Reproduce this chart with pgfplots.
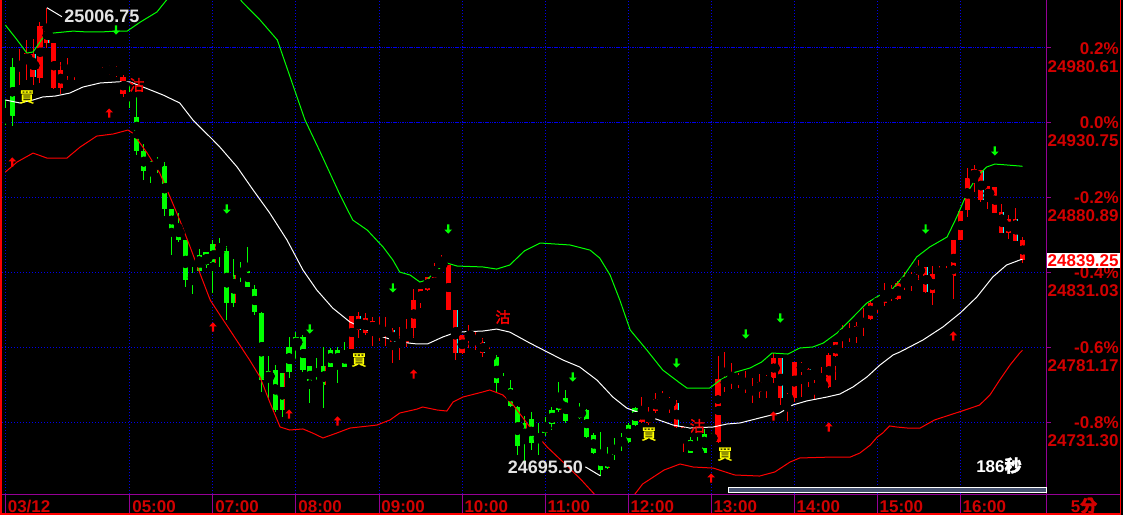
\documentclass[border=0pt]{standalone}
\usepackage{fontspec}
\setmainfont{Liberation Sans}
\newfontfamily\cjk[FakeBold=1.6]{Noto Sans CJK TC}
\usepackage{pgfplots}
\usepackage{pgfplotstable}
\pgfplotsset{compat=1.18}

\definecolor{upred}{RGB}{255,0,0}
\definecolor{dngreen}{RGB}{0,255,0}
\definecolor{edgecyan}{RGB}{0,255,255}
\definecolor{axpurple}{RGB}{150,0,150}
\definecolor{lblred}{RGB}{210,0,0}
\definecolor{gridblue}{RGB}{0,0,235}
\definecolor{sigyellow}{RGB}{255,255,0}
\definecolor{valgray}{RGB}{228,228,228}
\definecolor{barfill}{RGB}{70,82,112}

\newcommand\lab{\fontsize{8.5}{9}\selectfont\bfseries}
\newcommand\valfont{\fontsize{9}{10}\selectfont\bfseries}
\newcommand\sigfont{\cjk\fontsize{7.5}{7.5}\selectfont}

% signal arrows
\pgfdeclareplotmark{sigup}{%
  \pgfpathmoveto{\pgfqpoint{0pt}{2.3pt}}%
  \pgfpathlineto{\pgfqpoint{1.9pt}{0.3pt}}%
  \pgfpathlineto{\pgfqpoint{0.55pt}{0.3pt}}%
  \pgfpathlineto{\pgfqpoint{0.55pt}{-2.3pt}}%
  \pgfpathlineto{\pgfqpoint{-0.55pt}{-2.3pt}}%
  \pgfpathlineto{\pgfqpoint{-0.55pt}{0.3pt}}%
  \pgfpathlineto{\pgfqpoint{-1.9pt}{0.3pt}}%
  \pgfpathclose\pgfusepathqfill}
\pgfdeclareplotmark{sigdown}{%
  \pgfpathmoveto{\pgfqpoint{0pt}{-2.3pt}}%
  \pgfpathlineto{\pgfqpoint{1.9pt}{-0.3pt}}%
  \pgfpathlineto{\pgfqpoint{0.55pt}{-0.3pt}}%
  \pgfpathlineto{\pgfqpoint{0.55pt}{2.3pt}}%
  \pgfpathlineto{\pgfqpoint{-0.55pt}{2.3pt}}%
  \pgfpathlineto{\pgfqpoint{-0.55pt}{-0.3pt}}%
  \pgfpathlineto{\pgfqpoint{-1.9pt}{-0.3pt}}%
  \pgfpathclose\pgfusepathqfill}

% 5-minute bars: index, open, high, low, close,
% signal state (1 = long, 0 = short), e = body drawn with a contrasting edge
\pgfplotstableread{
i o h l c s e
0 24934.74 24945.38 24928.76 24930.75 0 0
1 24967.32 24973.30 24928.10 24934.74 0 0
2 24967.32 24979.28 24955.35 24969.98 1 0
3 24969.98 24985.27 24958.68 24976.63 1 0
4 24960.67 24985.93 24955.35 24975.96 1 1
5 24960.01 24997.23 24956.68 24994.58 1 0
6 24983.27 25006.75 24979.95 24993.25 1 1
7 24953.36 24983.27 24952.69 24983.27 1 0
8 24953.36 24970.64 24949.37 24965.32 1 0
9 24963.33 24973.30 24958.68 24965.32 1 0
10 24964.66 24968.65 24958.68 24967.98 1 0
11 24964.66 24967.98 24962.00 24967.98 1 0
12 24963.99 24966.65 24962.00 24965.99 1 0
13 24963.99 24965.99 24962.00 24965.32 1 0
14 24963.33 24967.32 24960.67 24963.99 1 1
15 24963.33 24968.65 24962.00 24967.98 1 0
16 24962.00 24967.98 24960.67 24967.32 1 1
17 24960.67 24962.00 24947.37 24949.37 1 0
18 24948.70 24955.35 24940.06 24946.04 0 0
19 24934.08 24947.37 24908.82 24911.48 0 0
20 24911.48 24916.13 24892.20 24898.18 0 0
21 24904.83 24904.83 24890.20 24898.18 0 1
22 24904.83 24907.49 24896.85 24902.17 0 0
23 24901.50 24904.16 24868.26 24872.92 0 0
24 24872.92 24872.92 24842.34 24858.29 0 0
25 24862.28 24870.26 24850.98 24852.31 0 0
26 24852.31 24852.31 24821.06 24825.72 0 0
27 24829.70 24834.36 24816.41 24825.05 0 0
28 24842.34 24846.32 24831.03 24831.70 0 0
29 24844.33 24844.33 24833.69 24835.69 0 0
30 24849.65 24852.31 24817.07 24835.69 0 1
31 24848.32 24853.64 24834.36 24846.32 0 0
32 24845.00 24848.32 24799.12 24810.43 0 0
33 24829.04 24839.68 24807.77 24810.43 0 1
34 24833.03 24837.68 24824.39 24827.71 0 1
35 24833.69 24847.65 24821.06 24821.06 0 0
36 24819.73 24822.39 24802.45 24804.44 0 0
37 24803.78 24804.44 24751.26 24759.24 0 0
38 24765.22 24775.19 24745.94 24758.57 0 1
39 24765.88 24769.21 24737.96 24739.29 0 0
40 24763.89 24763.89 24734.64 24739.29 0 1
41 24781.17 24787.82 24760.57 24764.55 0 0
42 24787.82 24791.15 24772.53 24781.17 0 0
43 24787.82 24789.15 24764.55 24765.88 0 0
44 24768.54 24768.54 24743.95 24756.58 0 0
45 24757.91 24773.86 24754.58 24755.25 0 0
46 24768.54 24781.17 24740.62 24755.91 0 1
47 24779.18 24780.51 24767.88 24767.88 0 0
48 24779.18 24781.17 24757.24 24769.21 0 0
49 24778.52 24784.50 24767.88 24767.88 0 0
50 24779.84 24801.78 24779.84 24801.78 1 0
51 24792.48 24804.44 24787.16 24801.78 1 1
52 24790.48 24803.78 24789.15 24800.45 1 0
53 24791.15 24801.12 24781.84 24798.46 1 0
54 24789.82 24801.12 24785.16 24791.15 1 0
55 24790.48 24801.12 24781.84 24793.14 1 0
56 24783.83 24793.81 24770.54 24792.48 1 1
57 24782.50 24794.47 24772.53 24785.16 1 0
58 24783.83 24799.79 24781.17 24792.48 1 0
59 24793.81 24819.73 24787.16 24812.42 1 0
60 24811.09 24819.73 24807.10 24819.73 1 0
61 24819.07 24827.71 24818.40 24827.71 1 0
62 24827.05 24837.02 24827.05 24833.69 1 0
63 24835.02 24842.34 24834.36 24837.68 1 0
64 24835.69 24835.69 24805.77 24805.77 1 0
65 24805.77 24805.77 24772.53 24777.19 1 1
66 24777.19 24789.15 24776.52 24789.15 1 0
67 24787.82 24795.80 24780.51 24790.48 1 0
68 24787.82 24791.15 24779.18 24784.50 1 0
69 24784.50 24787.16 24774.53 24777.19 1 1
70 24775.86 24781.17 24772.53 24774.53 1 0
71 24774.53 24775.86 24750.59 24757.24 0 0
72 24757.24 24763.89 24753.92 24754.58 0 0
73 24753.92 24759.24 24741.29 24741.95 0 0
74 24741.29 24741.95 24709.38 24715.36 0 0
75 24730.65 24735.30 24704.06 24717.35 0 1
76 24733.31 24737.96 24712.70 24717.35 0 0
77 24722.01 24730.65 24709.38 24720.01 0 0
78 24730.65 24734.64 24722.01 24724.00 0 1
79 24739.29 24741.29 24726.00 24729.98 0 0
80 24747.27 24757.91 24737.96 24739.29 0 1
81 24747.27 24752.59 24730.65 24731.98 0 0
82 24733.31 24735.97 24729.98 24731.98 0 0
83 24740.62 24743.95 24733.31 24733.97 0 0
84 24739.29 24739.96 24720.68 24721.34 0 0
85 24722.67 24724.00 24710.04 24710.71 0 0
86 24710.71 24724.67 24695.50 24699.40 0 0
87 24708.71 24714.69 24700.07 24700.73 0 1
88 24715.36 24720.68 24706.05 24709.38 0 0
89 24720.01 24724.00 24712.04 24716.69 0 0
90 24729.32 24730.65 24717.35 24718.02 0 0
91 24740.62 24741.29 24728.66 24729.32 0 0
92 24731.31 24747.93 24730.65 24740.62 1 0
93 24730.65 24741.29 24729.32 24737.30 1 0
94 24738.63 24750.59 24737.30 24746.60 1 0
95 24743.95 24751.92 24743.28 24748.60 1 0
96 24743.28 24747.93 24737.30 24745.28 1 0
97 24743.95 24745.94 24727.33 24727.99 1 1
98 24727.99 24728.66 24711.37 24721.34 1 0
99 24719.35 24721.34 24710.71 24710.71 0 0
100 24712.04 24721.34 24710.71 24710.71 0 0
101 24723.34 24726.66 24710.71 24710.71 0 0
102 24723.34 24724.00 24717.35 24718.02 0 0
103 24718.02 24775.19 24717.35 24759.90 1 0
104 24755.25 24777.85 24751.26 24759.90 1 1
105 24758.57 24770.54 24753.25 24761.23 1 0
106 24757.91 24763.89 24753.92 24761.23 1 1
107 24754.58 24765.22 24750.59 24757.24 1 1
108 24750.59 24760.57 24743.95 24753.25 1 0
109 24751.26 24763.22 24747.27 24757.91 1 0
110 24756.58 24762.56 24747.27 24761.23 1 0
111 24760.57 24777.19 24757.24 24773.86 1 0
112 24773.86 24773.86 24742.62 24747.27 1 1
113 24745.28 24750.59 24731.98 24748.60 1 0
114 24747.27 24771.20 24744.61 24771.20 1 0
115 24765.22 24771.20 24747.93 24769.87 1 1
116 24759.90 24767.21 24754.58 24766.55 1 1
117 24751.92 24759.24 24745.94 24756.58 1 1
118 24754.58 24767.88 24753.92 24757.24 1 0
119 24754.58 24777.19 24753.92 24775.86 1 0
120 24775.19 24784.50 24759.24 24784.50 1 0
121 24787.82 24795.80 24780.51 24792.48 1 0
122 24787.82 24797.13 24784.50 24792.48 1 0
123 24789.15 24797.79 24783.83 24795.14 1 0
124 24795.80 24807.10 24788.49 24798.46 1 0
125 24799.79 24812.42 24799.12 24810.43 1 0
126 24810.43 24814.41 24803.78 24811.76 1 1
127 24810.43 24823.72 24808.43 24818.40 1 0
128 24813.75 24822.39 24811.76 24818.40 1 1
129 24813.08 24825.05 24812.42 24823.72 1 0
130 24823.06 24831.03 24819.07 24824.39 1 0
131 24825.05 24831.03 24818.40 24828.38 1 0
132 24829.04 24839.01 24825.72 24835.02 1 0
133 24817.74 24834.36 24817.07 24834.36 1 1
134 24817.07 24835.02 24809.10 24829.70 1 0
135 24827.71 24835.02 24827.05 24829.04 1 0
136 24827.71 24835.02 24826.38 24829.04 1 0
137 24828.38 24852.31 24813.08 24852.31 1 0
138 24852.31 24871.59 24852.31 24871.59 1 0
139 24872.25 24900.17 24867.60 24893.53 1 0
140 24892.86 24902.17 24884.22 24899.51 1 0
141 24898.84 24898.84 24877.57 24878.90 1 1
142 24888.21 24888.21 24872.92 24878.90 1 0
143 24887.54 24887.54 24870.26 24870.26 1 0
144 24870.92 24876.24 24856.96 24856.96 1 1
145 24866.27 24868.93 24852.97 24856.96 1 0
146 24866.27 24873.58 24851.64 24851.64 1 1
147 24852.31 24854.30 24837.02 24839.25 1 0
}\candles

% candle parts drawn as thick error bars; the green pass only covers short-signal bars
\pgfplotsset{
  candlepart/.style n args={2}{only marks, mark=none, forget plot,
    error bars/.cd, y dir=both, y explicit, error mark=none,
    error bar style={draw=#1, line width=#2, solid, line cap=butt}},
}

\begin{document}
\begin{tikzpicture}
\begin{scope}[x=0.5pt,y=-0.5pt]
  \fill[black] (0,0) rectangle (1123,515);
\end{scope}

\begin{axis}[
  at={(1pt,-247pt)}, anchor=south west,
  scale only axis, width=522pt, height=247pt,
  xmin=-0.49, xmax=150.4, ymin=24683.45, ymax=25011.86,
  scaled x ticks=false, scaled y ticks=false,
  axis line style={draw=none},
  xtick={0,18,30,42,54,66,78,90,102,114,126,138},
  ytick={24731.30,24781.17,24831.03,24880.89},
  extra y ticks={24930.75,24980.61},
  extra y tick style={major grid style={draw=gridblue, line width=0.5pt, dash pattern=on 0.75pt off 0.4pt}},
  xticklabel=\empty, yticklabel=\empty, extra y tick labels={},
  xtick pos=bottom, ytick pos=right,
  tick align=outside, major tick length=9.5pt,
  xtick style={draw=axpurple, line width=0.5pt},
  ytick style={draw=none},
  grid=major,
  major grid style={draw=gridblue, line width=0.5pt, dash pattern=on 0.5pt off 1pt},
]

% red pass: every bar
\addplot[candlepart={upred}{0.5pt}]
  table[x=i, y expr={(\thisrow{h}+\thisrow{l})/2},
        y error expr={(\thisrow{h}-\thisrow{l})/2}] {\candles};
\addplot[candlepart={upred}{2.6pt}]
  table[x=i, y expr={(\thisrow{o}+\thisrow{c})/2},
        y error expr={max(abs(\thisrow{o}-\thisrow{c})/2,0.5)}] {\candles};
% green pass: bars with a short signal
\addplot[candlepart={dngreen}{0.5pt}]
  table[x=i, y expr={(\thisrow{h}+\thisrow{l})/2},
        y error expr={(1-\thisrow{s})*(\thisrow{h}-\thisrow{l})/2}] {\candles};
\addplot[candlepart={dngreen}{2.6pt}]
  table[x=i, y expr={(\thisrow{o}+\thisrow{c})/2},
        y error expr={(1-\thisrow{s})*max(abs(\thisrow{o}-\thisrow{c})/2,0.5)}] {\candles};
% body edges
\addplot[candlepart={edgecyan}{0.5pt}]
  table[x expr={\thisrow{i}+0.30}, y expr={(\thisrow{o}+\thisrow{c})/2},
        y error expr={\thisrow{s}*\thisrow{e}*max(abs(\thisrow{o}-\thisrow{c})/2,0.5)}] {\candles};
\addplot[candlepart={upred}{0.5pt}]
  table[x expr={\thisrow{i}+0.30}, y expr={(\thisrow{o}+\thisrow{c})/2},
        y error expr={(1-\thisrow{s})*\thisrow{e}*max(abs(\thisrow{o}-\thisrow{c})/2,0.5)}] {\candles};

% Bollinger bands
\addplot[draw=white, line width=0.5pt, mark=none] coordinates {
(0,24945.4) (2.1,24943.4) (4,24945.4) (5.4,24947.4) (7.2,24948.0) (9.3,24950.0) (11.2,24954.0) (13.7,24956.7) (16.1,24957.4) (18,24957.4) (19.9,24954.0) (22.8,24948.7) (25.2,24943.4) (27.1,24932.1) (30,24918.8) (31,24914.1) (33.5,24900.8) (35.8,24885.6) (38.2,24870.3) (40.7,24852.3) (43,24832.4) (45,24819.1) (47.3,24807.1) (49.8,24797.8) (52.3,24792.5) (54.6,24787.8) (57,24784.5) (59.5,24783.2) (61,24783.2) (63.2,24787.8) (65.2,24791.1) (69,24791.8) (71,24793.1) (72.9,24791.1) (75.8,24783.8) (78.3,24777.9) (80.6,24772.5) (83,24767.9) (85.5,24759.2) (87.8,24747.9) (89.8,24740.6) (91.7,24737.3) (93.6,24734.0) (96.5,24729.3) (98.9,24727.3) (102.3,24728.0) (104.3,24730.0) (106.2,24730.7) (109,24734.0) (111.9,24737.3) (113.8,24742.6) (115.8,24745.3) (118.7,24747.9) (120.6,24749.9) (122.5,24754.6) (124.5,24761.2) (126.4,24769.2) (128.3,24775.9) (129.3,24777.9) (132.6,24785.8) (135.5,24794.5) (138,24803.8) (140.4,24814.4) (142.7,24827.7) (144.7,24835.7) (146.6,24839.0) (147,24839.5)};
\addplot[draw=dngreen, line width=0.5pt, mark=none] coordinates {
(0,24995.2) (1.7,24985.3) (3.1,24976.6) (4,24977.3) (5.4,24986.6) (6.9,24989.9) (9.8,24991.2) (11.8,24990.6) (13.7,24990.6) (16.1,24991.2) (17.6,24991.2) (19.5,24997.2) (21.9,25003.9) (23.3,25011.9) (26,25025.0) (29,25032.0) (32,25025.0) (34.2,25010.7) (36.8,24998.6) (39.3,24985.3) (42.6,24941.4) (43.3,24932.1) (45.5,24910.8) (48.3,24882.9) (50.2,24865.6) (52.3,24858.9) (54.6,24847.6) (56,24839.0) (57,24831.0) (58.5,24829.0) (59.9,24824.4) (60.9,24825.7) (62.4,24832.4) (63.8,24837.0) (65.3,24835.0) (69,24834.4) (71,24833.0) (72.9,24835.7) (75,24845.0) (77.3,24850.3) (81.6,24849.0) (84.5,24845.6) (85.9,24840.3) (87.4,24829.0) (88.8,24812.4) (90.3,24792.5) (92.7,24779.2) (95,24765.9) (97.5,24757.2) (98.5,24753.9) (101.8,24753.9) (103.3,24759.2) (105.1,24763.9) (107.6,24767.2) (109.3,24771.2) (110.8,24777.2) (113.1,24776.5) (114.8,24780.5) (116.7,24781.2) (118.2,24783.8) (120.2,24790.5) (121.8,24797.8) (124.5,24810.4) (126.4,24815.7) (127.8,24817.7) (129.7,24827.7) (131.7,24841.0) (133.6,24847.7) (136.1,24854.3) (137.5,24867.6) (139,24883.6) (140.4,24894.2) (141.8,24900.8) (143,24902.8) (144.7,24902.2) (146.6,24901.5) (147,24901.3)};
\addplot[draw=upred, line width=0.5pt, mark=none] coordinates {
(0,24897.5) (1.7,24904.2) (4,24910.1) (6,24906.8) (8.9,24906.8) (10.8,24914.1) (13.2,24921.4) (15.6,24922.8) (17.7,24925.4) (18.4,24923.4) (20.5,24910.1) (22.3,24896.9) (23.8,24880.9) (25.2,24865.6) (26.7,24847.7) (28.1,24830.4) (29.6,24812.4) (31,24802.5) (33.2,24787.2) (35.3,24772.5) (36.8,24761.2) (38.2,24744.6) (39.7,24728.0) (41.1,24726.0) (43,24726.7) (44.4,24724.0) (45.9,24720.7) (47.9,24724.0) (49.8,24727.3) (53.7,24729.3) (55.6,24732.7) (57,24737.3) (59.5,24739.9) (60.3,24741.3) (62.4,24739.3) (63.8,24738.6) (64.7,24744.6) (66.1,24747.9) (69,24751.3) (70,24752.6) (71.9,24749.3) (73.4,24742.6) (75.8,24728.0) (78.3,24714.7) (80.6,24704.7) (83.2,24693.0) (85.5,24681.5) (88,24677.5) (90.5,24680.5) (92.1,24690.1) (95.2,24699.4) (97.5,24703.4) (99.4,24701.4) (102.3,24700.7) (105.4,24696.1) (109,24695.4) (111.2,24698.1) (113.4,24704.7) (114.8,24707.4) (119.2,24708.0) (122.1,24708.0) (123.5,24710.7) (125,24716.0) (126,24721.3) (126.8,24724.0) (127.8,24728.7) (128.8,24728.0) (130.4,24727.3) (132.2,24727.3) (134.3,24732.7) (136.5,24736.0) (138.7,24739.3) (140.8,24742.6) (142.3,24749.3) (143.7,24759.2) (145.2,24769.2) (146.6,24777.2) (147,24779.0)};

% buy / sell arrows
\addplot[only marks, mark=sigup, color=upred] coordinates {
(1,24904.2) (15,24936.7) (30,24794.5) (41,24736.6) (48,24732.0) (59,24763.2) (102,24694.1) (111,24735.3) (119,24728.0) (137,24788.5)};
\addplot[only marks, mark=sigdown, color=dngreen] coordinates {
(16,24991.9) (32,24872.9) (44,24793.1) (56,24820.4) (64,24859.6) (82,24761.2) (97,24770.5) (107,24789.8) (112,24800.4) (133,24859.6) (143,24911.5)};

% trade signals
\node[text=sigyellow, font=\sigfont] at (axis cs:3.1,24947.4) {買};
\node[text=upred, font=\sigfont] at (axis cs:19,24955.4) {沽};
\node[text=sigyellow, font=\sigfont] at (axis cs:51.1,24772.5) {買};
\node[text=upred, font=\sigfont] at (axis cs:71.9,24801.1) {沽};
\node[text=sigyellow, font=\sigfont] at (axis cs:93,24723.3) {買};
\node[text=upred, font=\sigfont] at (axis cs:100,24728.7) {沽};
\node[text=sigyellow, font=\sigfont] at (axis cs:104,24710.0) {買};

% session high / low
\draw[white, line width=0.5pt] (axis cs:6,25006.75) -- ++(7.5pt,-4.5pt)
  node[anchor=west, inner sep=1pt, text=valgray, font=\valfont] {25006.75};
\draw[white, line width=0.5pt] (axis cs:86,24695.50) -- ++(-7.5pt,4.5pt)
  node[anchor=east, inner sep=1pt, text=valgray, font=\valfont] {24695.50};
\end{axis}

\begin{scope}[x=0.5pt,y=-0.5pt]
  % frame lines
  \draw[axpurple, line width=0.6pt] (0,494.5) -- (1120,494.5);
  \draw[axpurple, line width=0.6pt] (1046.5,0) -- (1046.5,515);
  \draw[upred, line width=0.7pt] (1.2,0) -- (1.2,513.8) -- (1120.6,513.8) -- (1120.6,0);
  \foreach \yy in {47,122,197,272,347,422} \draw[axpurple, line width=0.5pt] (1046.5,\yy) -- (1051,\yy);
  % price scale
  \foreach \yy/\pc/\pr in {48/0.2\%/24980.61, 122/0.0\%/24930.75, 197/-0.2\%/24880.89,
      272/-0.4\%/24831.03, 347/-0.6\%/24781.17, 422/-0.8\%/24731.30} {
    \node[anchor=base east, inner sep=0pt, text=lblred, font=\lab] at (1119,\yy+6) {\pc};
    \node[anchor=base east, inner sep=0pt, text=lblred, font=\lab] at (1119,\yy+24) {\pr};
  }
  \fill[white] (1046.5,252.5) rectangle (1120,267.5);
  \node[anchor=base east, inner sep=0pt, text=upred, font=\lab] at (1119,266) {24839.25};
  % time scale
  \foreach \xx/\tl in {5.4/03\slash 12, 129.9/05:00, 213.0/07:00, 296.0/08:00, 379.0/09:00,
      462.1/10:00, 545.1/11:00, 628.1/12:00, 711.1/13:00, 794.2/14:00, 877.2/15:00, 960.2/16:00} {
    \node[anchor=base west, inner sep=0pt, text=lblred, font=\lab] at (\xx+2,512) {\tl};
  }
  \node[anchor=base, inner sep=0pt, text=lblred, font=\lab] at (1084,512) {5{\cjk 分}};
  % refresh countdown
  \draw[white, fill=barfill, line width=0.5pt] (728.5,487) rectangle (1046,492);
  \node[anchor=base east, inner sep=0pt, text=white, font=\lab] at (1022,472) {186{\cjk 秒}};
\end{scope}
\pgfresetboundingbox
\path[use as bounding box] (0pt,0pt) rectangle (561.5pt,-257.5pt);
\end{tikzpicture}
\end{document}
